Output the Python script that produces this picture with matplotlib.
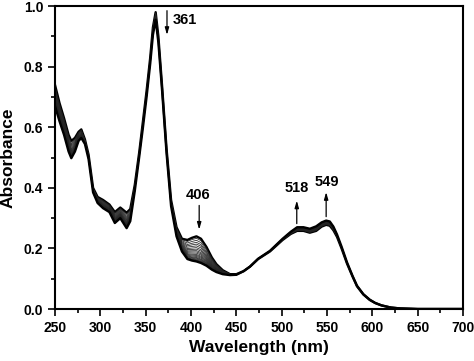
import numpy as np
import matplotlib
matplotlib.use("Agg")
import matplotlib.pyplot as plt

# wavelength grid (nm)
wl = [250, 255, 260, 265, 268, 272, 276, 279, 283, 287, 292, 297, 303, 310,
      316, 322, 329, 333, 338, 343, 347, 351, 355, 358, 361, 364, 368, 373,
      378, 384, 390, 396, 401, 406, 411, 417, 423, 428, 435, 443, 450, 458,
      465, 474, 487, 501, 510, 517, 524, 531, 538, 544, 549, 553, 557, 561,
      566, 572, 578, 583, 590, 597, 603, 610, 620, 630, 650, 700]

# first spectrum of the titration
abs_start = [0.74, 0.68, 0.63, 0.575, 0.555, 0.565, 0.585, 0.593, 0.56, 0.51,
             0.40, 0.37, 0.36, 0.345, 0.32, 0.335, 0.318, 0.33, 0.41, 0.52,
             0.62, 0.72, 0.83, 0.93, 0.98, 0.90, 0.74, 0.53, 0.36, 0.27,
             0.232, 0.228, 0.235, 0.24, 0.232, 0.205, 0.17, 0.148, 0.128,
             0.115, 0.115, 0.125, 0.14, 0.165, 0.19, 0.228, 0.248, 0.258,
             0.258, 0.252, 0.258, 0.272, 0.278, 0.275, 0.26, 0.238, 0.20,
             0.15, 0.108, 0.075, 0.048, 0.03, 0.02, 0.012, 0.005, 0.002,
             0.0, 0.0]

# last spectrum of the titration
abs_end = [0.67, 0.62, 0.575, 0.52, 0.498, 0.52, 0.555, 0.565, 0.545, 0.495,
           0.385, 0.35, 0.333, 0.32, 0.284, 0.30, 0.267, 0.29, 0.39, 0.505,
           0.60, 0.70, 0.81, 0.905, 0.955, 0.88, 0.725, 0.515, 0.34, 0.24,
           0.19, 0.165, 0.16, 0.157, 0.152, 0.143, 0.13, 0.122, 0.115,
           0.112, 0.113, 0.125, 0.14, 0.166, 0.192, 0.232, 0.255, 0.27,
           0.27, 0.265, 0.273, 0.286, 0.292, 0.289, 0.272, 0.246, 0.206,
           0.154, 0.11, 0.077, 0.049, 0.031, 0.02, 0.012, 0.005, 0.002,
           0.0, 0.0]

# progress of each recorded spectrum between first and last
progress = [0, 0.08, 0.16, 0.24, 0.31, 0.38, 0.45, 0.51, 0.57, 0.62, 0.67,
            0.72, 0.76, 0.80, 0.84, 0.87, 0.90, 0.93, 0.95, 0.97, 0.99, 1.0]

plt.rcParams['font.family'] = ['Liberation Sans', 'DejaVu Sans']
plt.rcParams['font.weight'] = 'bold'

fig = plt.figure(figsize=(4.74, 3.61), dpi=100)
ax = fig.add_axes([0.116, 0.144, 0.861, 0.839])

a0 = np.array(abs_start)
a1 = np.array(abs_end)
for i, p in enumerate(progress):
    y = a0 + p * (a1 - a0)
    edge = i == 0 or i == len(progress) - 1
    ax.plot(wl, y, color='black' if edge else '#222222',
            lw=1.7 if edge else 0.55)

ax.set_xlim(250, 700)
ax.set_ylim(0, 1.0)
ax.set_xticks(np.arange(250, 701, 50))
ax.set_xticks(np.arange(275, 700, 50), minor=True)
ax.set_yticks(np.arange(0, 1.01, 0.2))
ax.set_yticks(np.arange(0.1, 1.0, 0.2), minor=True)
ax.yaxis.set_major_formatter(matplotlib.ticker.FormatStrFormatter('%.1f'))
ax.tick_params(which='major', direction='out', length=5, width=1.2, labelsize=10)
ax.tick_params(which='minor', direction='out', length=3, width=1.2)
for s in ax.spines.values():
    s.set_linewidth(1.5)

ax.set_xlabel("Wavelength (nm)", fontsize=12.5, fontweight='bold', labelpad=4)
ax.set_ylabel("Absorbance", fontsize=12.5, fontweight='bold', labelpad=6)

arr = dict(arrowstyle='-|>,head_length=0.7,head_width=0.2', color='black',
           lw=0.9, shrinkA=0, shrinkB=0, mutation_scale=6)
ax.annotate('', xy=(373.5, 0.905), xytext=(373.5, 0.985), arrowprops=arr)
ax.text(380, 0.954, '361', fontsize=10.5, fontweight='bold', va='center')
ax.annotate('', xy=(409, 0.262), xytext=(409, 0.342), arrowprops=arr)
ax.text(408, 0.376, '406', fontsize=10.5, fontweight='bold', ha='center', va='center')
ax.annotate('', xy=(516.6, 0.358), xytext=(516.6, 0.282), arrowprops=arr)
ax.text(516, 0.40, '518', fontsize=10.5, fontweight='bold', ha='center', va='center')
ax.annotate('', xy=(549, 0.386), xytext=(549, 0.305), arrowprops=arr)
ax.text(549.6, 0.42, '549', fontsize=10.5, fontweight='bold', ha='center', va='center')

fig.savefig('out.png', dpi=100)
